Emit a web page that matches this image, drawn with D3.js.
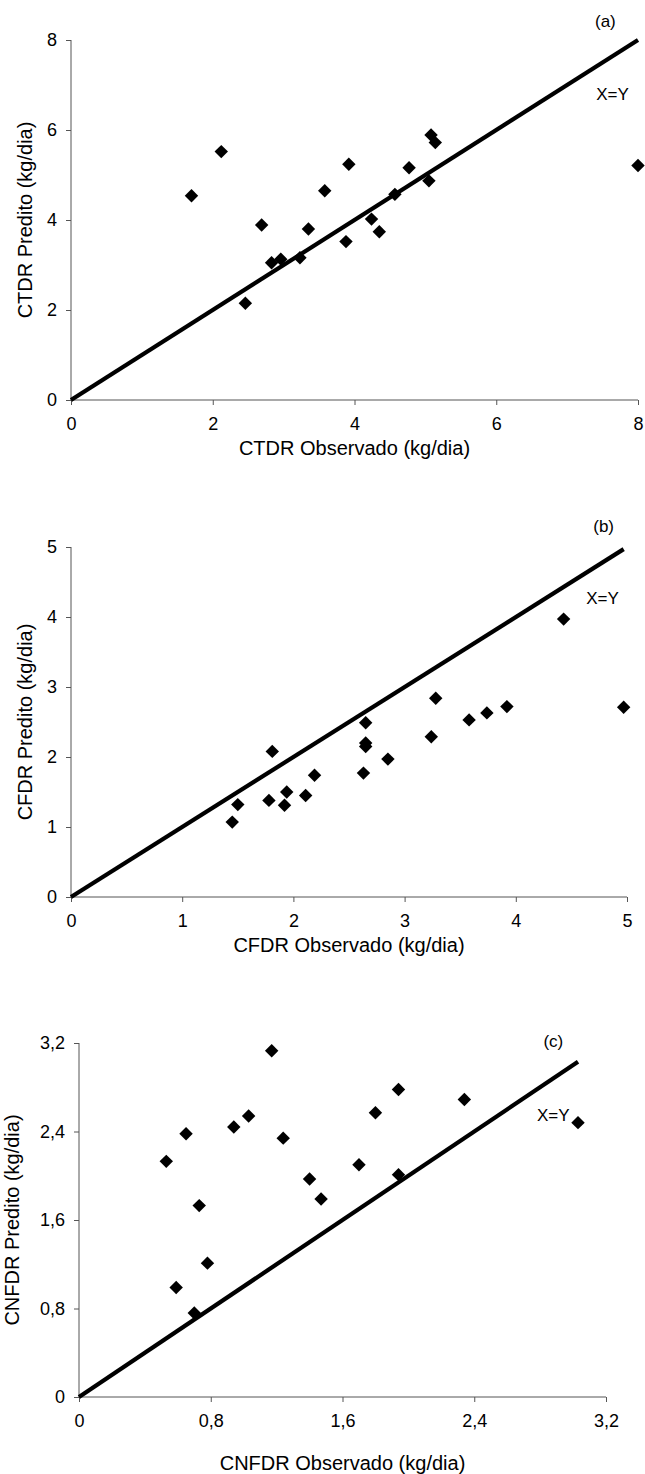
<!DOCTYPE html>
<html>
<head>
<meta charset="utf-8">
<script src="https://cdn.jsdelivr.net/npm/d3@7/dist/d3.min.js"></script>
<style>
  html, body { margin: 0; padding: 0; background: #fff; }
  svg { display: block; }
  text { font-family: "Liberation Sans", Arial, sans-serif; fill: #000; }
</style>
</head>
<body>
<svg id="chart" width="645" height="1474"></svg>
<script>
// (a) total dry matter intake
const ctdrObservado = [1.70, 2.12, 2.46, 2.69, 2.83, 2.96, 3.23, 3.35, 3.58, 3.88, 3.92, 4.24, 4.35, 4.57, 4.77, 5.05, 5.08, 5.14, 8.00];
const ctdrPredito   = [4.54, 5.52, 2.15, 3.89, 3.05, 3.13, 3.16, 3.80, 4.65, 3.52, 5.24, 4.02, 3.74, 4.57, 5.16, 4.87, 5.89, 5.72, 5.21];
const ctdrTicks = [0, 2, 4, 6, 8];

// (b) fibrous fraction intake
const cfdrObservado = [1.45, 1.50, 1.78, 1.81, 1.92, 1.94, 2.11, 2.19, 2.63, 2.65, 2.65, 2.65, 2.85, 3.24, 3.28, 3.58, 3.74, 3.92, 4.43, 4.97];
const cfdrPredito   = [1.07, 1.32, 1.38, 2.08, 1.31, 1.50, 1.45, 1.74, 1.77, 2.49, 2.20, 2.15, 1.97, 2.29, 2.84, 2.53, 2.63, 2.72, 3.97, 2.71];
const cfdrTicks = [0, 1, 2, 3, 4, 5];

// (c) non-fibrous fraction intake
const cnfdrObservado = [0.53, 0.59, 0.65, 0.70, 0.73, 0.78, 0.94, 1.03, 1.17, 1.24, 1.40, 1.47, 1.70, 1.80, 1.94, 1.94, 2.34, 3.03];
const cnfdrPredito   = [2.13, 0.99, 2.38, 0.76, 1.73, 1.21, 2.44, 2.54, 3.13, 2.34, 1.97, 1.79, 2.10, 2.57, 2.78, 2.01, 2.69, 2.48];
const cnfdrTicks = [0, 0.8, 1.6, 2.4, 3.2];

const panelTags = ["(a)", "(b)", "(c)"];
const xTitles = ["CTDR Observado (kg/dia)", "CFDR Observado (kg/dia)", "CNFDR Observado (kg/dia)"];
const yTitles = ["CTDR Predito (kg/dia)", "CFDR Predito (kg/dia)", "CNFDR Predito (kg/dia)"];
const identityLabel = "X=Y";

const commaFmt = v => String(v).replace(".", ",");

const panels = [
  { obs: ctdrObservado, pred: ctdrPredito, ticks: ctdrTicks, fmt: String,
    tag: panelTags[0], xTitle: xTitles[0], yTitle: yTitles[0],
    box: { left: 71, right: 638, top: 40, bottom: 400 },
    xTitleY: 448, yTitleX: 25,
    tagAt: [7.54, 8.41], idAt: [7.64, 6.80] },
  { obs: cfdrObservado, pred: cfdrPredito, ticks: cfdrTicks, fmt: String,
    tag: panelTags[1], xTitle: xTitles[1], yTitle: yTitles[1],
    box: { left: 71, right: 627, top: 547, bottom: 897 },
    xTitleY: 945, yTitleX: 25,
    tagAt: [4.79, 5.30], idAt: [4.78, 4.27] },
  { obs: cnfdrObservado, pred: cnfdrPredito, ticks: cnfdrTicks, fmt: commaFmt,
    tag: panelTags[2], xTitle: xTitles[2], yTitle: yTitles[2],
    box: { left: 79, right: 606, top: 1043, bottom: 1397 },
    xTitleY: 1463, yTitleX: 12,
    tagAt: [2.88, 3.21], idAt: [2.88, 2.545] }
];

const svg = d3.select("#chart");
const diamond = d3.symbol().type(d3.symbolDiamond2).size(115);

panels.forEach(p => {
  const maxTick = d3.max(p.ticks);
  const x = d3.scaleLinear().domain([0, maxTick]).range([p.box.left, p.box.right]);
  const y = d3.scaleLinear().domain([0, maxTick]).range([p.box.bottom, p.box.top]);
  const g = svg.append("g");

  // axes
  const xAxis = g.append("g")
    .attr("transform", `translate(0,${p.box.bottom})`)
    .call(d3.axisBottom(x).tickValues(p.ticks).tickFormat(p.fmt).tickSize(5).tickPadding(12));
  const yAxis = g.append("g")
    .attr("transform", `translate(${p.box.left},0)`)
    .call(d3.axisLeft(y).tickValues(p.ticks).tickFormat(p.fmt).tickSize(5).tickPadding(9));
  [xAxis, yAxis].forEach(ax => {
    ax.select(".domain").attr("stroke", "#555").attr("stroke-width", 1);
    ax.selectAll(".tick line").attr("stroke", "#555");
    ax.selectAll(".tick text")
      .style("font-family", '"Liberation Sans", Arial, sans-serif')
      .style("font-size", "18px").attr("fill", "#000");
  });
  // axis lines without outer tick overhang
  yAxis.select(".domain").attr("d", `M0,${y(0)}V${y(maxTick)}`);
  xAxis.select(".domain").attr("d", `M${x(0)},0H${x(maxTick)}`);

  // identity line, drawn up to the largest observed value
  const lineEnd = d3.max(p.obs);
  g.append("path")
    .datum([0, lineEnd])
    .attr("d", d3.line().x(v => x(v)).y(v => y(v)))
    .attr("stroke", "#000").attr("stroke-width", 4.2).attr("fill", "none");

  // observations
  g.append("g").selectAll("path")
    .data(d3.zip(p.obs, p.pred))
    .join("path")
    .attr("transform", d => `translate(${x(d[0])},${y(d[1])})`)
    .attr("d", diamond)
    .attr("fill", "#000");

  // annotations
  g.append("text").attr("x", x(p.tagAt[0])).attr("y", y(p.tagAt[1]))
    .attr("text-anchor", "middle").attr("dominant-baseline", "central")
    .style("font-size", "17px").text(p.tag);
  g.append("text").attr("x", x(p.idAt[0])).attr("y", y(p.idAt[1]))
    .attr("text-anchor", "middle").attr("dominant-baseline", "central")
    .style("font-size", "17px").text(identityLabel);

  // titles
  g.append("text")
    .attr("x", (p.box.left + p.box.right) / 2).attr("y", p.xTitleY)
    .attr("text-anchor", "middle").attr("dominant-baseline", "central")
    .style("font-size", "20px").text(p.xTitle);
  g.append("text")
    .attr("transform", `translate(${p.yTitleX},${(p.box.top + p.box.bottom) / 2}) rotate(-90)`)
    .attr("text-anchor", "middle").attr("dominant-baseline", "central")
    .style("font-size", "20px").text(p.yTitle);
});
</script>
</body>
</html>
